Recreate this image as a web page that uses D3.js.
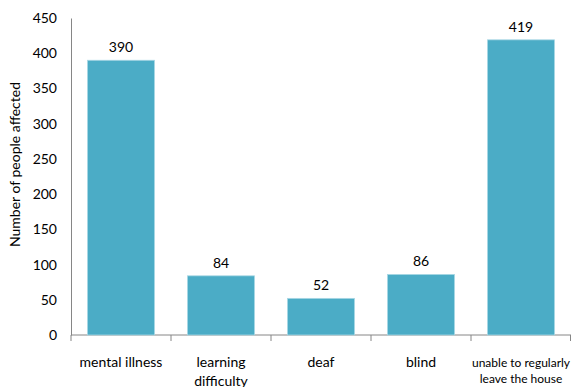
<!DOCTYPE html>
<html>
<head>
<meta charset="utf-8">
<script src="https://cdn.jsdelivr.net/npm/d3@7"></script>
<style>
  body { margin: 0; background: #fff; }
  text { font-family: Lato, "Open Sans", sans-serif; fill: #000; }
</style>
</head>
<body>
<div id="chart"></div>
<script>
// Chart data
const categories = [
    ['mental illness'],
    ['learning', 'difficulty'],
    ['deaf'],
    ['blind'],
    ['unable to regularly', 'leave the house']
];
const values = [390, 84, 52, 86, 419];
const yTicks = [0, 50, 100, 150, 200, 250, 300, 350, 400, 450];

const width = 574, height = 387;
const margin = {top: 18, right: 3, bottom: 52, left: 71};
const plotW = width - margin.left - margin.right;
const plotH = height - margin.top - margin.bottom;

const svg = d3.select('#chart')
    .append('svg')
    .attr('width', width)
    .attr('height', height)
    .append('g')
    .attr('transform', `translate(${margin.left},${margin.top})`);

const x = d3.scaleBand()
    .domain(d3.range(values.length))
    .range([0, plotW])
    .paddingInner(0.33)
    .paddingOuter(0.165);

const y = d3.scaleLinear()
    .domain([0, 450])
    .range([plotH, 0]);

// Y axis
const yAxis = svg.append('g')
    .call(d3.axisLeft(y).tickValues(yTicks).tickSize(0).tickPadding(14));
yAxis.select('.domain').attr('stroke', '#868686');
yAxis.selectAll('text')
    .style('font-size', '14px')
    .style('font-family', 'Lato, "Open Sans", sans-serif');

// X axis line and category tick marks
const step = x.step();
svg.append('line')
    .attr('x1', 0).attr('x2', plotW)
    .attr('y1', plotH).attr('y2', plotH)
    .attr('stroke', '#868686');
svg.selectAll('.xtick')
    .data(d3.range(values.length + 1))
    .enter().append('line')
    .attr('class', 'xtick')
    .attr('x1', d => Math.min(d * step, plotW - 0.5))
    .attr('x2', d => Math.min(d * step, plotW - 0.5))
    .attr('y1', plotH)
    .attr('y2', plotH + 6)
    .attr('stroke', '#868686');

// Bars
svg.selectAll('.bar')
    .data(values)
    .enter().append('rect')
    .attr('class', 'bar')
    .attr('x', (d, i) => x(i))
    .attr('y', d => y(d))
    .attr('width', x.bandwidth())
    .attr('height', d => plotH - y(d))
    .attr('fill', '#4bacc6')
    .attr('stroke', '#a9d7e4')
    .attr('stroke-width', 0.8);

// Value labels
svg.selectAll('.val')
    .data(values)
    .enter().append('text')
    .attr('class', 'val')
    .attr('x', (d, i) => x(i) + x.bandwidth() / 2)
    .attr('y', d => y(d) - 8)
    .attr('text-anchor', 'middle')
    .style('font-size', '14px')
    .text(d => d);

// Category labels
const catG = svg.selectAll('.cat')
    .data(categories)
    .enter().append('text')
    .attr('class', 'cat')
    .attr('text-anchor', 'middle')
    .attr('transform', (d, i) => `translate(${x(i) + x.bandwidth() / 2},${plotH + 32})`)
    .style('font-size', (d, i) => i === 4 ? '12px' : '14px');
catG.selectAll('tspan')
    .data(d => d)
    .enter().append('tspan')
    .attr('x', 0)
    .attr('dy', (d, i) => i === 0 ? 0 : '1.35em')
    .text(d => d);

// Y axis title
svg.append('text')
    .attr('text-anchor', 'middle')
    .attr('transform', 'rotate(-90)')
    .attr('x', -(plotH / 2 - 12))
    .attr('y', -51)
    .style('font-size', '14px')
    .text('Number of people affected');
</script>
</body>
</html>
